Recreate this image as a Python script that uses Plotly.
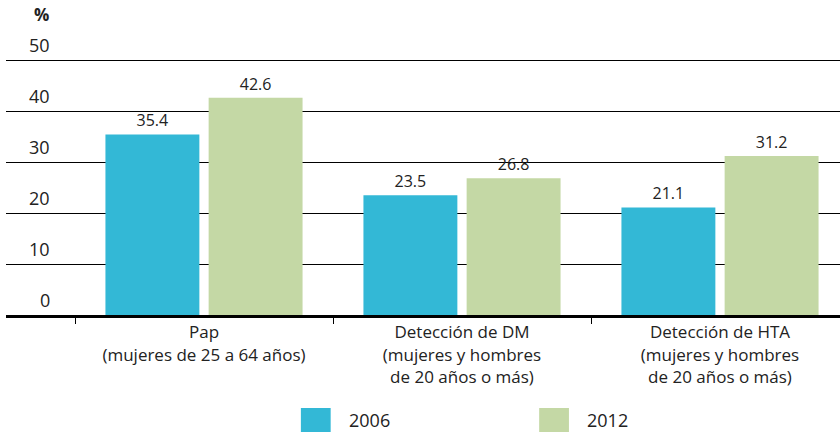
import plotly.graph_objects as go

categories = ["Pap<br>(mujeres de 25 a 64 años)",
              "Detección de DM<br>(mujeres y hombres<br>de 20 años o más)",
              "Detección de HTA<br>(mujeres y hombres<br>de 20 años o más)"]
years = ["2006", "2012"]
values_2006 = [35.4, 23.5, 21.1]
values_2012 = [42.6, 26.8, 31.2]
y_ticks = [0, 10, 20, 30, 40, 50]

colors = {"2006": "#33b8d6", "2012": "#c4d8a5"}
font_name = "Open Sans"

W, H = 840, 435
fig = go.Figure()

for year, vals in zip(years, [values_2006, values_2012]):
    fig.add_trace(go.Bar(
        x=categories, y=vals, name=year,
        marker=dict(color=colors[year], line=dict(width=0)),
        text=[f"{v:.1f}" for v in vals], textposition="outside",
        textfont=dict(family=font_name, size=16, color="#222"),
        cliponaxis=False, showlegend=False,
    ))

# y labels sit above the gridlines
for t in y_ticks:
    fig.add_annotation(x=46 / W, y=t, xref="paper", yref="y", text=str(t),
                       xanchor="right", yanchor="bottom", showarrow=False,
                       yshift=1, font=dict(family=font_name, size=18, color="#222"))
fig.add_annotation(x=45 / W, y=1, xref="paper", yref="paper", text="<b>%</b>",
                   xanchor="right", yanchor="bottom", showarrow=False, yshift=30,
                   font=dict(family=font_name, size=17, color="#222"))

# legend drawn by hand to get the big swatches
for i, year in enumerate(years):
    x0 = 297 + i * 240
    fig.add_shape(type="rect", xref="paper", yref="paper",
                  x0=x0 / W, x1=(x0 + 30) / W,
                  y0=-(408 - 315 + 24) / 257, y1=-(408 - 315) / 257,
                  fillcolor=colors[year], line=dict(width=0))
    fig.add_annotation(x=(x0 + 46) / W, y=-(420 - 315) / 257, xref="paper", yref="paper",
                       text=year, xanchor="left", yanchor="middle", showarrow=False,
                       font=dict(family=font_name, size=18, color="#222"))

fig.update_layout(
    width=W, height=H,
    margin=dict(l=6, r=0, t=58, b=120),
    plot_bgcolor="white", paper_bgcolor="white",
    barmode="group", bargap=0.2, bargroupgap=0.09,
    font=dict(family=font_name, color="#222"),
    xaxis=dict(range=[-0.5 - 69 / 258, 2.5 - 9 / 258], tickson="boundaries",
               ticks="outside", ticklen=6, tickcolor="black", tickwidth=1,
               showline=True, linecolor="black", linewidth=3,
               tickfont=dict(family=font_name, size=17, color="#222")),
    yaxis=dict(range=[0, 50.4], tickvals=y_ticks, showticklabels=False,
               showgrid=True, gridcolor="black", gridwidth=1.3, zeroline=False),
)

fig.write_html("out.html", post_script="document.body.style.margin='0';",
               config={"displayModeBar": False})
